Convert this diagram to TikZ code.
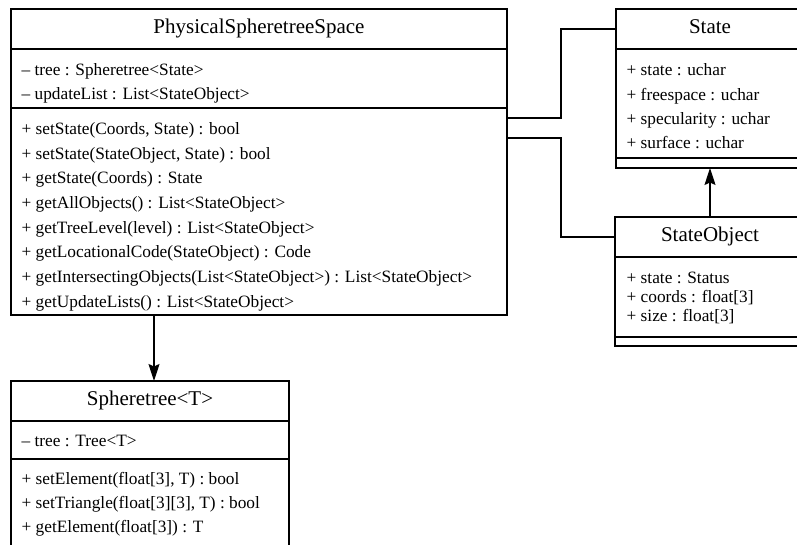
\documentclass[tikz,border=0pt]{standalone}
\usepackage{fontspec}
\setmainfont{Liberation Serif}
\usetikzlibrary{positioning,arrows.meta,calc}
\tikzset{
classtitle/.style={
draw,
anchor=north west,
inner sep=0pt,
outer sep=0pt,
minimum height=40pt,
text height=14.5pt,
text depth=4.6pt,
font=\fontsize{21}{25}\selectfont
},
compartment/.style={
draw,
inner sep=0pt,
outer sep=0pt
},
member/.style={
anchor=base west,
inner sep=0pt,
font=\fontsize{17.3}{20}\selectfont
},
link/.style={
line width=1.2pt
},
arrow/.style={
-{Stealth[length=17pt,width=11pt,inset=2.5pt]},
line width=1.2pt
}
}

\begin{document}
\begin{tikzpicture}[x=1pt,y=-1pt,line width=1.3pt]
\useasboundingbox (0,0) rectangle (797,545);
\clip (0,0) rectangle (797,545);

% PhysicalSpheretreeSpace
\node[classtitle,minimum width=496pt](pss) at (11,9){PhysicalSpheretreeSpace};
\node[compartment,minimum width=496pt,minimum height=59pt,below=0pt of pss](pssattr){};
\node[compartment,minimum width=496pt,minimum height=207pt,below=0pt of pssattr](pssops){};
\foreach \txt [count=\i from 0] in {{-- tree : Spheretree<State>},{-- updateList : List<StateObject>}}
\node[member](pssattr\i) at ($(pssattr.north west)+(10,27)+(0,23.7*\i)$){\txt};
\foreach \txt [count=\i from 0] in {
{+ setState(Coords, State) : bool},
{+ setState(StateObject, State) : bool},
{+ getState(Coords) : State},
{+ getAllObjects() : List<StateObject>},
{+ getTreeLevel(level) : List<StateObject>},
{+ getLocationalCode(StateObject) : Code},
{+ getIntersectingObjects(List<StateObject>) : List<StateObject>},
{+ getUpdateLists() : List<StateObject>}}
\node[member](pssop\i) at ($(pssops.north west)+(10,26.5)+(0,24.7*\i)$){\txt};

% State
\node[classtitle,minimum width=188pt](state) at (616,9){State};
\node[compartment,minimum width=188pt,minimum height=109pt,below=0pt of state](stateattr){};
\node[compartment,minimum width=188pt,minimum height=10pt,below=0pt of stateattr](stateops){};
\foreach \txt [count=\i from 0] in {{+ state : uchar},{+ freespace : uchar},{+ specularity : uchar},{+ surface : uchar}}
\node[member](stateattr\i) at ($(stateattr.north west)+(10,27)+(0,24.3*\i)$){\txt};

% StateObject
\node[classtitle,minimum width=190pt](sobj) at (615,217){StateObject};
\node[compartment,minimum width=190pt,minimum height=80pt,below=0pt of sobj](sobjattr){};
\node[compartment,minimum width=190pt,minimum height=9pt,below=0pt of sobjattr](sobjops){};
\foreach \txt [count=\i from 0] in {{+ state : Status},{+ coords : float[3]},{+ size : float[3]}}
\node[member](sobjattr\i) at ($(sobjattr.north west)+(11,26.5)+(0,19.2*\i)$){\txt};

% Spheretree<T>
\node[classtitle,minimum width=278pt](stree) at (11,381){Spheretree<T>};
\node[compartment,minimum width=278pt,minimum height=38pt,below=0pt of stree](streeattr){};
\node[compartment,minimum width=278pt,minimum height=101pt,below=0pt of streeattr](streeops){};
\node[member](streeattr0) at ($(streeattr.north west)+(10,25)$){-- tree : Tree<T>};
\foreach \txt [count=\i from 0] in {
{+ setElement(float[3], T) : bool},
{+ setTriangle(float[3][3], T) : bool},
{+ getElement(float[3]) : T}}
\node[member](streeop\i) at ($(streeops.north west)+(10,25.5)+(0,24*\i)$){\txt};

% connectors
\draw[link]($(pssops.north east)+(0,10)$) -- ++(54,0) |- (state.west);
\draw[link]($(pssops.north east)+(0,30)$) -- ++(54,0) |- (sobj.west);
\draw[arrow](sobj.north) -- (stateops.south);
\draw[arrow]($(pssops.south west)+(143,0)$) -- ($(stree.north west)+(143,0)$);
\end{tikzpicture}
\end{document}
